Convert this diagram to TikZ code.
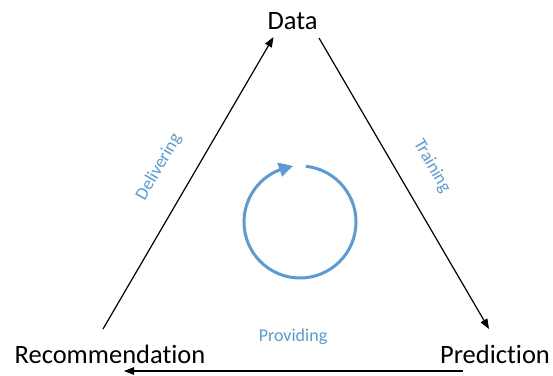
\documentclass[tikz,border=0pt]{standalone}
\usepackage{fontspec}
\setmainfont{Carlito}[RawFeature=-liga]
\usetikzlibrary{arrows.meta,bending}
\definecolor{accent}{RGB}{91,155,213}
\begin{document}
\begin{tikzpicture}[x=1pt,y=1pt,
  lbl/.style={font=\fontsize{26.5}{30}\selectfont, anchor=base, inner sep=0pt},
  edgelbl/.style={font=\fontsize{18}{21}\selectfont, text=accent, inner sep=0pt},
  conn/.style={line width=1.2pt, -{Triangle[length=10pt,width=7.5pt]}},
  cyc/.style={draw=accent, line width=3pt, -{Triangle[length=14pt,width=14pt,bend]}}]
\useasboundingbox (0,0) rectangle (553,375);
\node[lbl] (data) at (292.5,345) {Data};
\node[lbl] (rec) at (110,12) {Recommendation};
\node[lbl] (pred) at (495,12) {Prediction};
% connector end points
\coordinate (recTop) at (103,46);
\coordinate (dataL) at (273.5,338);
\coordinate (dataR) at (319,337);
\coordinate (predTop) at (489,46);
\coordinate (predL) at (463,4);
\coordinate (recR) at (124,4);
\draw[conn] (recTop) -- (dataL);
\draw[conn] (dataR) -- (predTop);
\draw[conn] (predL) -- (recR);
\node[edgelbl, rotate=60] (deliv) at (159,208) {Delivering};
\node[edgelbl, rotate=-60] (train) at (432,209) {Training};
\node[edgelbl] (prov) at (293,38) {Providing};
\coordinate (cyccenter) at (300,153);
\draw[cyc] ([shift={(84:56)}]cyccenter) arc[start angle=84, end angle=-263, radius=56];
\end{tikzpicture}
\end{document}
